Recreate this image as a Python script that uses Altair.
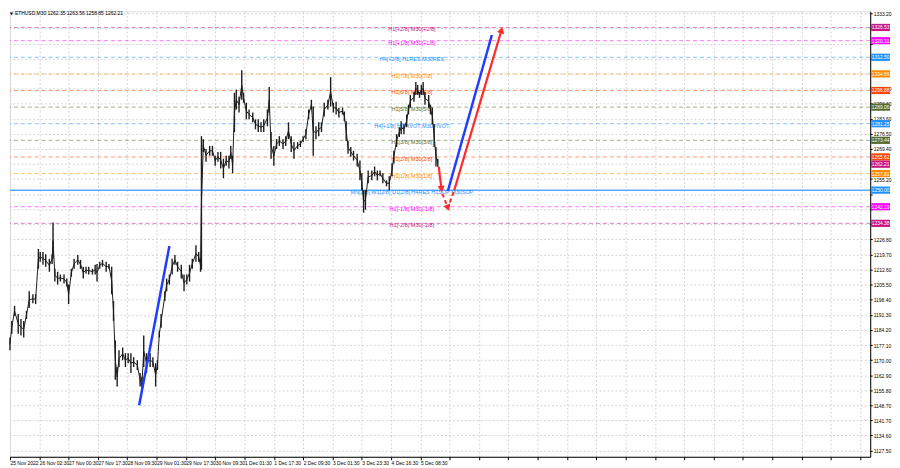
import json
import altair as alt
import pandas as pd

# ---------------- data ----------------
bar = [0, 2, 5, 9, 12, 15, 18, 21, 25, 28, 31, 33, 36, 39, 43, 46, 47, 49, 52, 55,
       59, 62, 64, 67, 70, 74, 77, 80, 83, 86, 90, 93, 95, 98, 101, 105, 108, 111, 113, 115,
       117, 119, 123, 126, 129, 132, 135, 139, 142, 144, 146, 149, 153, 156, 159, 161, 163, 165, 169, 171,
       174, 177, 180, 183, 187, 190, 193, 196, 199, 203, 206, 208, 209, 211, 214, 218, 221, 224, 227, 230,
       233, 236, 239, 241, 243, 245, 247, 250, 253, 255, 258, 261, 265, 268, 271, 274, 277, 281, 283, 285,
       288, 291, 294, 298, 301, 304, 307, 310, 314, 317, 320, 323, 326, 329, 331, 334, 337, 340, 343, 347,
       350, 353, 356, 359, 363, 365, 367, 369, 372, 375, 379, 382, 384, 386, 388, 391, 395, 398, 401, 404,
       407, 411, 414, 417, 419, 422, 425, 427, 430, 433, 435, 437, 441, 443, 445, 447, 449, 451, 453, 457,
       459, 461, 463, 465, 467]
high = [1180.7, 1188.5, 1195.5, 1191.7, 1189.4, 1188.5, 1193.1, 1202.4, 1201.0, 1201.0,
        1222.3, 1220.9, 1220.9, 1219.9, 1217.7, 1219.9, 1234.8, 1213.0, 1211.6, 1210.3,
        1210.3, 1208.4, 1205.6, 1213.0, 1217.7, 1219.5, 1217.2, 1214.0, 1214.0, 1214.0,
        1213.0, 1214.9, 1215.3, 1216.3, 1217.2, 1216.3, 1215.3, 1214.0, 1197.8, 1179.3,
        1166.8, 1174.7, 1176.0, 1173.3, 1173.3, 1173.3, 1171.4, 1170.0, 1164.0, 1162.2,
        1181.6, 1173.3, 1173.3, 1171.4, 1168.6, 1170.0, 1183.9, 1191.7, 1202.4, 1208.4,
        1210.3, 1217.7, 1219.5, 1216.3, 1214.9, 1210.3, 1210.3, 1214.9, 1217.7, 1224.1,
        1220.9, 1217.7, 1275.4, 1274.0, 1269.4, 1270.8, 1270.8, 1266.2, 1268.0, 1268.0,
        1264.8, 1266.2, 1266.2, 1270.8, 1266.2, 1295.8, 1297.2, 1293.9, 1306.4, 1295.8,
        1291.1, 1287.9, 1286.5, 1283.3, 1283.3, 1281.9, 1283.3, 1287.9, 1298.5, 1277.3,
        1270.8, 1274.0, 1275.4, 1274.0, 1275.4, 1281.9, 1275.4, 1272.6, 1272.6, 1273.1,
        1275.4, 1278.6, 1287.9, 1292.5, 1289.3, 1280.0, 1281.9, 1281.9, 1291.1, 1292.5,
        1303.2, 1291.1, 1291.6, 1288.8, 1288.8, 1287.0, 1282.4, 1273.1, 1270.3, 1268.5,
        1267.1, 1263.9, 1257.9, 1250.0, 1250.0, 1259.2, 1259.2, 1261.1, 1259.2, 1259.2,
        1257.9, 1254.6, 1256.5, 1262.5, 1268.5, 1276.3, 1279.6, 1282.4, 1281.0, 1285.6,
        1290.2, 1294.8, 1296.2, 1300.9, 1299.5, 1296.2, 1299.5, 1300.9, 1296.2, 1294.8,
        1290.2, 1288.8, 1281.0, 1270.3, 1264.8]
low = [1174.7, 1182.5, 1190.8, 1182.5, 1181.6, 1180.7, 1189.4, 1194.5, 1196.8, 1196.4,
       1213.0, 1216.3, 1214.9, 1214.0, 1211.6, 1215.3, 1217.7, 1207.0, 1205.6, 1207.0,
       1206.1, 1204.7, 1196.4, 1209.3, 1213.0, 1214.9, 1213.0, 1208.4, 1210.7, 1210.3,
       1210.3, 1210.3, 1207.0, 1213.0, 1214.0, 1211.6, 1213.0, 1201.0, 1188.5, 1160.8,
       1157.6, 1166.8, 1170.0, 1166.8, 1168.6, 1164.0, 1166.8, 1165.4, 1157.6, 1154.8,
       1166.8, 1164.0, 1166.8, 1166.8, 1157.6, 1165.4, 1180.7, 1185.3, 1197.8, 1202.4,
       1205.6, 1210.3, 1214.9, 1211.6, 1208.4, 1202.4, 1205.6, 1207.0, 1213.0, 1216.3,
       1216.3, 1211.6, 1212.6, 1268.0, 1263.4, 1266.2, 1266.2, 1261.5, 1263.4, 1260.2,
       1255.6, 1261.5, 1260.2, 1264.8, 1257.9, 1277.3, 1287.9, 1286.5, 1292.5, 1291.1,
       1283.3, 1283.3, 1281.9, 1278.6, 1277.3, 1277.3, 1277.3, 1280.0, 1286.5, 1264.8,
       1261.5, 1269.4, 1270.8, 1269.4, 1270.8, 1274.0, 1268.0, 1264.8, 1269.4, 1270.3,
       1272.6, 1274.0, 1283.3, 1287.9, 1266.2, 1274.0, 1275.4, 1277.3, 1284.7, 1287.9,
       1289.3, 1286.5, 1285.6, 1284.2, 1285.6, 1282.4, 1273.1, 1267.1, 1265.7, 1263.9,
       1261.1, 1254.6, 1250.0, 1239.4, 1240.8, 1253.2, 1254.6, 1256.5, 1254.6, 1256.5,
       1253.2, 1251.8, 1250.0, 1256.5, 1262.5, 1270.3, 1275.0, 1276.3, 1276.3, 1279.6,
       1285.6, 1288.8, 1291.6, 1294.8, 1294.8, 1293.4, 1294.8, 1294.8, 1290.2, 1288.8,
       1285.6, 1281.0, 1270.3, 1261.1, 1261.0]

time_labels = ["25 Nov 2022", "26 Nov 02:30", "27 Nov 00:30", "27 Nov 17:30", "28 Nov 09:30",
               "29 Nov 01:30", "29 Nov 17:30", "30 Nov 09:30", "1 Dec 01:30", "1 Dec 17:30",
               "2 Dec 09:30", "3 Dec 01:30", "3 Dec 23:30", "4 Dec 16:30", "5 Dec 08:30"]

level_prices = [1326.53, 1320.31, 1312.50, 1304.69, 1296.88, 1289.06, 1281.25,
                1273.44, 1265.62, 1257.81, 1250.00, 1242.19, 1234.38]
level_names = ["H1[+2/8] M30[+2/8]", "H1[+1/8] M30[+1/8]", "H4[+2/8] H1RES M30RES",
               "H1[7/8] M30[7/8]", "H1[6/8] M30[6/8]", "H1[5/8] M30[5/8]",
               "H4[+1/8] H1PIVOT M30PIVOT", "H1[3/8] M30[3/8]", "H1[2/8] M30[2/8]",
               "H1[1/8] M30[1/8]", "MN[2/8] W1[2/8] D1[2/8] H4RES H1SUP M30SUP",
               "H1[-1/8] M30[-1/8]", "H1[-2/8] M30[-2/8]"]
current_price = 1262.21
header = "ETHUSD,M30  1262.35 1263.56 1258.85 1262.21"

y_ticks = [1127.5, 1134.6, 1141.7, 1148.7, 1155.8, 1162.9, 1170.0, 1177.1, 1184.2, 1191.3,
           1198.4, 1205.5, 1212.6, 1219.7, 1226.8, 1233.9, 1240.9, 1248.0, 1255.2, 1262.3,
           1269.4, 1276.5, 1283.6, 1290.6, 1297.7, 1304.8, 1311.9, 1318.9, 1326.0, 1333.2]
y_hidden = [1233.9, 1240.9, 1248.0, 1262.3, 1304.8, 1311.9, 1318.9, 1326.0]

# projection lines (bar index, price)
blue_seg = ["a", "a", "b", "b"]
blue_bar = [141, 174, 478, 526]
blue_price = [1148.8, 1223.7, 1249.6, 1323.0]
red_seg = ["a", "a", "b", "b"]
red_bar = [468, 471, 485, 536.5]
red_price = [1261.1, 1250.5, 1250.0, 1325.3]
red_dash_bar = [472, 478, 485]
red_dash_price = [1248.3, 1241.7, 1250.0]

# ---------------- styles ----------------
level_colors = ["#c71585", "#ff00ff", "#1e90ff", "#ff8c00", "#ff4500", "#556b2f", "#1e90ff",
                "#556b2f", "#ff4500", "#ff8c00", "#1e90ff", "#ff00ff", "#c71585"]
FONT = "Liberation Sans"
W, H = 869, 450
FS = 5

xs = alt.Scale(domain=[0, 939], nice=False, zero=False)
ys = alt.Scale(domain=[1124.57, 1334.13], nice=False, zero=False)

x_label_expr = "(" + json.dumps(time_labels) + ")[round(datum.value/32)] || ''"
y_label_expr = ("indexof(" + json.dumps(y_hidden) + ", datum.value) >= 0 ? '' : "
                "format(datum.value, '.2f')")

x_axis = alt.Axis(values=list(range(0, 939, 32)), labelExpr=x_label_expr, labelAlign="left",
                  labelFontSize=FS, labelFont=FONT, labelColor="#000", tickSize=3,
                  tickColor="#000", domainColor="#000", grid=True, gridDash=[2, 2],
                  gridColor="#d4d4d4", title=None, labelPadding=1, labelOverlap=False,
                  labelFlush=False)
y_axis = alt.Axis(orient="right", values=y_ticks, labelExpr=y_label_expr, labelFontSize=FS,
                  labelFont=FONT, labelColor="#000", tickSize=2, tickColor="#000",
                  domainColor="#000", grid=True, gridDash=[2, 2], gridColor="#d4d4d4",
                  title=None, labelPadding=1, labelOverlap=False, labelFlush=False)


def X(f):
    return alt.X(f, type="quantitative", scale=xs, axis=x_axis)


def Y(f):
    return alt.Y(f, type="quantitative", scale=ys, axis=y_axis)


lvl = pd.DataFrame({"price": level_prices, "name": level_names})
lvl_color = alt.Color("name:N", scale=alt.Scale(domain=level_names, range=level_colors),
                      legend=None)

levels_dashed = alt.Chart(lvl).transform_filter(
    alt.datum.price != 1250).mark_rule(strokeDash=[4, 3], strokeWidth=1, opacity=0.55).encode(
    y=Y("price"), color=lvl_color)
level_main = alt.Chart(lvl).transform_filter(
    alt.datum.price == 1250).mark_rule(strokeWidth=1.5, color="#5aa9ff").encode(y=Y("price"))

level_text = alt.Chart(lvl).mark_text(fontSize=5.6, font=FONT, align="center", dy=2).encode(
    x=alt.value(406), y=Y("price"), text="name:N", color=lvl_color)

px = pd.DataFrame({"bar": bar, "high": high, "low": low})
candles = alt.Chart(px).mark_rule(color="#1c1c1c", strokeWidth=1.4).encode(
    x=X("bar"), y=Y("high"), y2="low")
mid_line = alt.Chart(px).transform_calculate(mid="(datum.high + datum.low) / 2").mark_line(
    color="#1c1c1c", strokeWidth=1).encode(x=X("bar"), y=Y("mid"))

blue = alt.Chart(pd.DataFrame({"seg": blue_seg, "bar": blue_bar, "price": blue_price})).mark_line(
    color="#1f3cff", strokeWidth=2.5).encode(x=X("bar"), y=Y("price"), detail="seg:N")
red = alt.Chart(pd.DataFrame({"seg": red_seg, "bar": red_bar, "price": red_price})).mark_line(
    color="#ff2a2a", strokeWidth=2.2).encode(x=X("bar"), y=Y("price"), detail="seg:N")
red_dash = alt.Chart(pd.DataFrame({"bar": red_dash_bar, "price": red_dash_price})).mark_line(
    color="#ff2a2a", strokeWidth=2, strokeDash=[4, 3]).encode(x=X("bar"), y=Y("price"))


def head(b, p, shape, ang):
    return alt.Chart(pd.DataFrame({"bar": [b], "price": [p]})).mark_point(
        shape=shape, filled=True, size=55, angle=ang, color="#ff2a2a", opacity=1).encode(
        x=X("bar"), y=Y("price"))


heads = [head(red_bar[3], red_price[3], "triangle-up", 16),
         head(red_bar[1], red_price[1], "triangle-down", 353),
         head(red_dash_bar[1], red_dash_price[1], "triangle-down", 338)]

box_keys = level_names + ["current"]
box_cols = level_colors + ["#000000"]
bx = pd.DataFrame({"price": level_prices + [current_price], "key": box_keys})
box_color = alt.Color("key:N", scale=alt.Scale(domain=box_keys, range=box_cols), legend=None)
boxes = alt.Chart(bx).transform_calculate(
    b0="datum.price - 1.7", b1="datum.price + 1.7").mark_rect().encode(
    x=alt.value(870), x2=alt.value(889), y=Y("b0"), y2="b1:Q", color=box_color)
box_text = alt.Chart(bx).transform_calculate(
    lab="format(datum.price, '.2f')").mark_text(
    fontSize=FS, font=FONT, color="white", align="center", baseline="middle").encode(
    x=alt.value(879.5), y=Y("price"), text="lab:N")

head_text = alt.Chart(pd.DataFrame({"t": [header]})).mark_text(
    fontSize=FS, font=FONT, color="#000", align="left", baseline="top").encode(
    x=alt.value(5), y=alt.value(0), text="t:N")
head_icon = alt.Chart(pd.DataFrame({"t": ["▼"]})).mark_text(
    fontSize=4, font="DejaVu Sans", color="#000", align="left", baseline="top").encode(
    x=alt.value(0), y=alt.value(1), text="t:N")

chart = alt.layer(
    levels_dashed, level_main, level_text, mid_line, candles, blue, red, red_dash, *heads,
    boxes, box_text, head_text, head_icon
).properties(width=W, height=H, padding=0).configure_view(
    stroke="#888", strokeWidth=1).configure(background="white")

chart.save("out.html", embed_options={"renderer": "svg", "actions": False})
